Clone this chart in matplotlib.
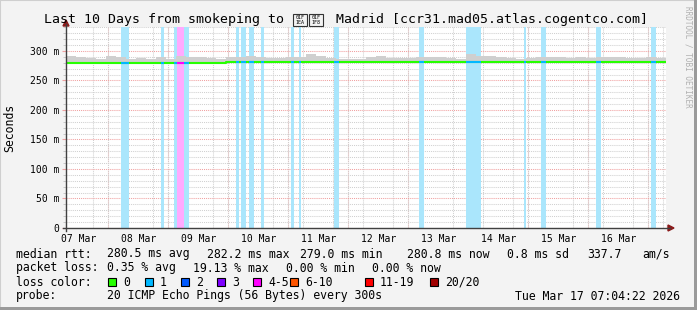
import matplotlib
matplotlib.use('Agg')
import matplotlib.pyplot as plt
from matplotlib.lines import Line2D
from matplotlib.patches import Rectangle, Polygon
from matplotlib.ticker import FixedLocator, MultipleLocator, FuncFormatter

plt.rcParams['font.family'] = ['DejaVu Sans Mono', 'Noto Sans CJK SC']

W, H = 697, 310

# time axis in hours since 07 Mar 00:00, graph ends Tue Mar 17 07:04:22
t_end = 247.073
t_start = t_end - 240
bin_hours = 4

# smoke top (ms) and median rtt (ms) per 4 hour bin
smoke_top = [292, 289, 288, 287, 291, 290, 287, 288, 287, 290,
             287, 292, 290, 289, 288, 286, 289, 290, 291, 289,
             288, 288, 290, 290, 294, 291, 288, 287, 287, 287,
             289, 292, 288, 288, 288, 289, 290, 290, 288, 287,
             294, 292, 291, 290, 288, 287, 288, 290, 289, 289,
             288, 289, 288, 290, 290, 290, 288, 288, 289, 288]
median_rtt = [279.0, 279.0, 279.0, 279.0, 279.0, 279.0, 279.0, 279.0, 279.0, 279.0,
              279.0, 279.8, 279.0, 279.0, 279.0, 280.3, 280.6, 281.2, 280.6, 280.6,
              280.6, 280.6, 280.6, 281.2, 280.6, 280.6, 280.6, 280.6, 280.6, 280.6,
              280.6, 280.6, 280.6, 280.6, 280.6, 280.6, 280.6, 280.6, 280.6, 280.6,
              280.6, 280.6, 280.6, 280.6, 280.6, 281.5, 280.6, 280.6, 280.6, 280.6,
              280.6, 280.6, 280.6, 280.6, 281.2, 280.6, 280.6, 280.6, 280.6, 280.6]

# packet loss periods (hours) and their loss colour index
loss_start = [29.2, 45.2, 50.4, 51.6, 54.4, 75.2, 77.2, 80.4, 85.2, 97.2,
              100.4, 114.4, 148.4, 167.2, 190.4, 197.2, 219.2, 241.2]
loss_end = [32.4, 46.4, 51.6, 54.4, 56.4, 76.4, 79.2, 82.4, 86.4, 98.4,
            101.2, 116.4, 150.4, 173.2, 191.2, 199.2, 221.2, 243.2]
loss_level = [1, 1, 1, 4, 1, 1, 1, 1, 1, 1, 1, 1, 1, 1, 1, 1, 1, 1]

day_labels = ['07 Mar', '08 Mar', '09 Mar', '10 Mar', '11 Mar',
              '12 Mar', '13 Mar', '14 Mar', '15 Mar', '16 Mar']

loss_names = ['0', '1', '2', '3', '4-5', '6-10', '11-19', '20/20']
loss_colors = ['#26ff00', '#00b8ff', '#0059ff', '#7e00ff',
               '#ff00ff', '#ff5500', '#ff0000', '#a10000']
loss_bg = {1: '#aae6fc', 4: '#ffaaff'}

# the flag in the title has no glyph anywhere, rrdtool shows hex boxes
flag_codes = [('01F', '1EA'), ('01F', '1F8')]

def fx(x):
    return x / W

def fy(y):
    return 1 - y / H

fig = plt.figure(figsize=(W / 100, H / 100), dpi=100, facecolor='#f3f3f3')

# outer frame with the rrdtool shading
fig.patches.append(Rectangle((0, 0), 1, 1, transform=fig.transFigure,
                             fill=False, edgecolor='#cfcfcf', linewidth=1.5))
fig.patches.append(Rectangle((fx(694), 0), fx(3), 1, transform=fig.transFigure,
                             color='#9a9a9a', linewidth=0))
fig.patches.append(Rectangle((0, 0), 1, 3 / H, transform=fig.transFigure,
                             color='#9a9a9a', linewidth=0))

ax = fig.add_axes([fx(66), fy(228), 600 / W, (228 - 27) / H])
ax.set_facecolor('white')
ax.set_xlim(t_start, t_end)
ax.set_ylim(0, 340.5)

# grid
ax.xaxis.set_minor_locator(MultipleLocator(6))
ax.yaxis.set_major_locator(MultipleLocator(50))
ax.yaxis.set_minor_locator(MultipleLocator(10))
ax.grid(True, which='minor', color='#d0d0d0', linestyle=(0, (1, 1)), linewidth=0.75)
ax.yaxis.grid(True, which='major', color='#f0a0a0', linestyle=(0, (1, 1)), linewidth=0.75)
for d in range(1, 11):
    ax.axvline(24 * d, color='#f0a0a0', linestyle=(0, (1, 1)), linewidth=0.75, zorder=0.5)
ax.set_axisbelow(True)

# loss background bars
for s, e, lv in zip(loss_start, loss_end, loss_level):
    ax.axvspan(s, e, color=loss_bg[lv], linewidth=0, zorder=1)

# smoke
edges = [t_start + bin_hours * i for i in range(len(smoke_top) + 1)]
low = [m - 1.0 for m in median_rtt]
ax.fill_between(edges, low + [low[-1]], smoke_top + [smoke_top[-1]],
                step='post', color='#cfcfcf', linewidth=0, zorder=2)

# median line
ax.step(edges, median_rtt + [median_rtt[-1]], where='post',
        color=loss_colors[0], linewidth=1.5, zorder=3)
for s, e, lv in zip(loss_start, loss_end, loss_level):
    i = int((s - t_start) // bin_hours)
    ax.hlines(median_rtt[i], s, e, color=loss_colors[lv], linewidth=1.5, zorder=4)

for sp in ax.spines.values():
    sp.set_visible(False)

# day labels sit at noon
ax.xaxis.set_major_locator(FixedLocator([12 + 24 * d for d in range(10)]))
ax.set_xticklabels(day_labels)
ax.tick_params(axis='x', which='major', length=0, pad=4, labelsize=7)
ax.tick_params(axis='x', which='minor', length=0)
ax.yaxis.set_major_formatter(FuncFormatter(lambda v, _: '0' if v == 0 else f'{int(v)} m'))
ax.tick_params(axis='y', which='major', length=3, color='#f0a0a0', labelsize=7, pad=2)
ax.tick_params(axis='y', which='minor', length=2, color='#c0c0c0')

# axes lines with arrows
fig.add_artist(Line2D([fx(66), fx(66)], [fy(231), fy(24)], color='#404040', linewidth=1))
fig.add_artist(Line2D([fx(63), fx(670)], [fy(228), fy(228)], color='#404040', linewidth=1))
fig.patches.append(Polygon([(fx(63), fy(26)), (fx(69), fy(26)), (fx(66), fy(20))],
                           closed=True, transform=fig.transFigure, color='#8b1a1a'))
fig.patches.append(Polygon([(fx(668), fy(225)), (fx(668), fy(231)), (fx(674), fy(228))],
                           closed=True, transform=fig.transFigure, color='#8b1a1a'))

# title
fig.text(fx(44), fy(19), 'Last 10 Days from smokeping to', ha='left', va='center', fontsize=9.5)
for k, (top, bot) in enumerate(flag_codes):
    bx = 293 + 16 * k
    fig.patches.append(Rectangle((fx(bx), fy(26)), 14 / W, 12 / H, transform=fig.transFigure,
                                 facecolor='#f3f3f3', edgecolor='#333333', linewidth=0.8))
    fig.text(fx(bx + 7), fy(17.3), top, ha='center', va='center', fontsize=3.6)
    fig.text(fx(bx + 7), fy(22.5), bot, ha='center', va='center', fontsize=3.6)
fig.text(fx(336), fy(19), 'Madrid [ccr31.mad05.atlas.cogentco.com]', ha='left', va='center',
         fontsize=9.5)

fig.text(fx(10), fy(128), 'Seconds', rotation=90, ha='center', va='center', fontsize=8.3)
fig.text(fx(688), fy(6), 'RRDTOOL / TOBI OETIKER', rotation=-90, ha='center', va='top',
         fontsize=5.5, color='#b0b0b0')

fs = 8.3
row1 = [(16, 'median rtt:'), (107, '280.5 ms avg'), (207, '282.2 ms max'), (300, '279.0 ms min'),
        (407, '280.8 ms now'), (507, '0.8 ms sd'), (587, '337.7'), (642, 'am/s')]
row2 = [(16, 'packet loss:'), (107, '0.35 % avg'), (193, '19.13 % max'), (286, '0.00 % min'),
        (372, '0.00 % now')]
for x, s in row1:
    fig.text(fx(x), fy(254), s, ha='left', va='center', fontsize=fs)
for x, s in row2:
    fig.text(fx(x), fy(268), s, ha='left', va='center', fontsize=fs)

fig.text(fx(16), fy(282), 'loss color:', ha='left', va='center', fontsize=fs)
box_x = [108, 145, 181, 217, 253, 290, 365, 430]
for bx, name, col in zip(box_x, loss_names, loss_colors):
    fig.patches.append(Rectangle((fx(bx), fy(286)), 8 / W, 8 / H, transform=fig.transFigure,
                                 facecolor=col, edgecolor='black', linewidth=0.8))
    fig.text(fx(bx + 15), fy(282), name, ha='left', va='center', fontsize=fs)

fig.text(fx(16), fy(296), 'probe:', ha='left', va='center', fontsize=fs)
fig.text(fx(107), fy(296), '20 ICMP Echo Pings (56 Bytes) every 300s', ha='left', va='center', fontsize=fs)
fig.text(fx(680), fy(296), 'Tue Mar 17 07:04:22 2026', ha='right', va='center', fontsize=fs)

fig.savefig('out.png', dpi=100, facecolor=fig.get_facecolor())
